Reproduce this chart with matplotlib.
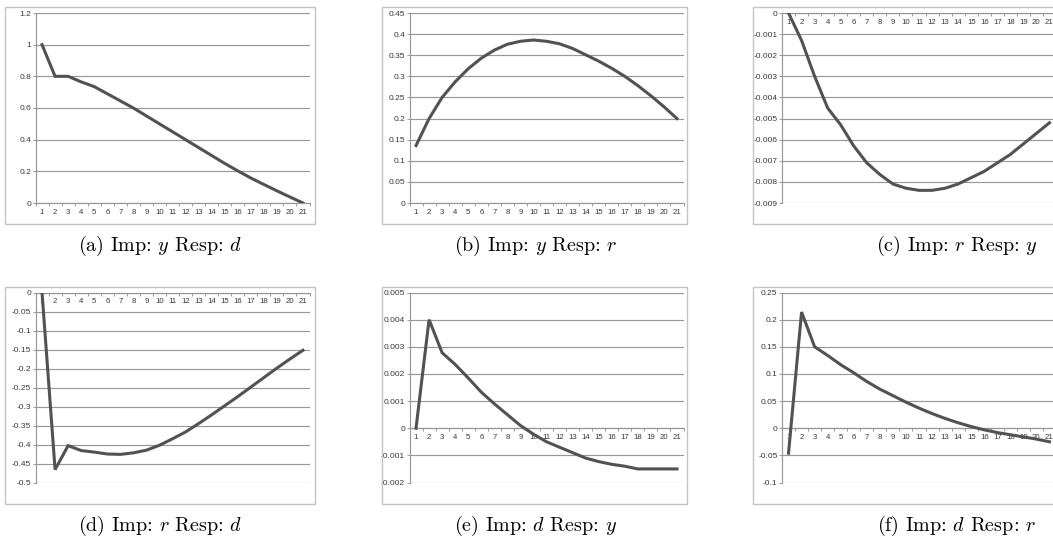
import matplotlib
matplotlib.use("Agg")
import matplotlib.pyplot as plt
from matplotlib.patches import Rectangle

# ---------------- data ----------------
periods = list(range(1, 22))
period_labels = [str(p) for p in periods]

resp_a = [1.0, 0.8, 0.8, 0.765, 0.735, 0.69, 0.645, 0.6, 0.55, 0.5, 0.45,
          0.4, 0.35, 0.3, 0.25, 0.203, 0.158, 0.117, 0.077, 0.038, 0.0]
resp_b = [0.136, 0.2, 0.25, 0.287, 0.318, 0.343, 0.362, 0.376, 0.383, 0.386, 0.383,
          0.377, 0.366, 0.351, 0.336, 0.319, 0.3, 0.278, 0.254, 0.228, 0.2]
resp_c = [0.0, -0.0013, -0.003, -0.0045, -0.0053, -0.0063, -0.0071, -0.00765, -0.0081, -0.0083, -0.0084,
          -0.0084, -0.0083, -0.0081, -0.0078, -0.0075, -0.0071, -0.0067, -0.0062, -0.0057, -0.0052]
resp_d = [0.0, -0.466, -0.403, -0.416, -0.42, -0.425, -0.426, -0.422, -0.415, -0.402, -0.385,
          -0.367, -0.345, -0.322, -0.298, -0.274, -0.249, -0.224, -0.199, -0.175, -0.152]
resp_e = [0.0, 0.004, 0.00278, 0.00235, 0.00185, 0.00133, 0.0009, 0.0005, 0.0001, -0.00022, -0.0005,
          -0.0007, -0.0009, -0.0011, -0.00123, -0.00133, -0.0014, -0.0015, -0.0015, -0.0015, -0.0015]
resp_f = [-0.046, 0.214, 0.15, 0.134, 0.117, 0.102, 0.086, 0.072, 0.06, 0.048, 0.037,
          0.027, 0.018, 0.01, 0.003, -0.003, -0.008, -0.012, -0.016, -0.02, -0.025]

yticks_a = [0, 0.2, 0.4, 0.6, 0.8, 1, 1.2]
ylabels_a = ["0", "0.2", "0.4", "0.6", "0.8", "1", "1.2"]
yticks_b = [0, 0.05, 0.1, 0.15, 0.2, 0.25, 0.3, 0.35, 0.4, 0.45]
ylabels_b = ["0", "0.05", "0.1", "0.15", "0.2", "0.25", "0.3", "0.35", "0.4", "0.45"]
yticks_c = [-0.009, -0.008, -0.007, -0.006, -0.005, -0.004, -0.003, -0.002, -0.001, 0]
ylabels_c = ["-0.009", "-0.008", "-0.007", "-0.006", "-0.005", "-0.004", "-0.003", "-0.002", "-0.001", "0"]
yticks_d = [-0.5, -0.45, -0.4, -0.35, -0.3, -0.25, -0.2, -0.15, -0.1, -0.05, 0]
ylabels_d = ["-0.5", "-0.45", "-0.4", "-0.35", "-0.3", "-0.25", "-0.2", "-0.15", "-0.1", "-0.05", "0"]
yticks_e = [-0.002, -0.001, 0, 0.001, 0.002, 0.003, 0.004, 0.005]
ylabels_e = ["-0.002", "-0.001", "0", "0.001", "0.002", "0.003", "0.004", "0.005"]
yticks_f = [-0.1, -0.05, 0, 0.05, 0.1, 0.15, 0.2, 0.25]
ylabels_f = ["-0.1", "-0.05", "0", "0.05", "0.1", "0.15", "0.2", "0.25"]

captions = [r"(a) Imp: $y$ Resp: $d$", r"(b) Imp: $y$ Resp: $r$", r"(c) Imp: $r$ Resp: $y$",
            r"(d) Imp: $r$ Resp: $d$", r"(e) Imp: $d$ Resp: $y$", r"(f) Imp: $d$ Resp: $r$"]

# ---------------- layout ----------------
W, H = 1053, 552
plt.rcParams["mathtext.fontset"] = "cm"
plt.rcParams["axes.unicode_minus"] = False
fig = plt.figure(figsize=(W / 100, H / 100), dpi=100)
fig.patch.set_facecolor("white")

LINE_C = "#525252"
GRID_C = "#989898"
TXT_C = "#383838"

col_left = [35.5, 409.5, 782.0]
ax_w = 274.0
row_top = [13.0, 292.5]
ax_h = 190.0
box_x = [5, 382, 753]
box_w = [310, 305, 320]
box_top = [7, 287]
box_h = 217
cap_cx = [160, 536, 957]
cap_cy = [246, 526]

panels = [
    (resp_a, yticks_a, ylabels_a),
    (resp_b, yticks_b, ylabels_b),
    (resp_c, yticks_c, ylabels_c),
    (resp_d, yticks_d, ylabels_d),
    (resp_e, yticks_e, ylabels_e),
    (resp_f, yticks_f, ylabels_f),
]

for i, (vals, yt, yl) in enumerate(panels):
    r, c = divmod(i, 3)
    # panel box
    bx, by = box_x[c], box_top[r]
    fig.patches.append(Rectangle((bx / W, 1 - (by + box_h) / H), box_w[c] / W, box_h / H,
                                 transform=fig.transFigure, fill=False,
                                 edgecolor="#c4c4c4", linewidth=1.0, zorder=0))
    left = col_left[c]
    top = row_top[r]
    ax = fig.add_axes([left / W, 1 - (top + ax_h) / H, ax_w / W, ax_h / H])
    ax.set_facecolor("none")
    ax.plot(periods, vals, color=LINE_C, linewidth=2.2, solid_joinstyle="miter", zorder=3)
    ax.set_xlim(0.5, 21.5)
    ax.set_ylim(yt[0], yt[-1])
    ax.set_yticks(yt)
    ax.set_yticklabels(yl)
    ax.yaxis.grid(True, color=GRID_C, linewidth=0.85)
    ax.set_axisbelow(True)
    for s in ("top", "right"):
        ax.spines[s].set_visible(False)
    ax.spines["left"].set_color(GRID_C)
    ax.spines["left"].set_linewidth(0.85)
    ax.spines["bottom"].set_position(("data", 0))
    ax.spines["bottom"].set_color(GRID_C)
    ax.spines["bottom"].set_linewidth(0.85)
    ax.set_xticks(periods)
    ax.set_xticklabels(period_labels)
    ax.set_xticks([p - 0.5 for p in periods] + [21.5], minor=True)
    ax.tick_params(axis="x", which="major", length=0, pad=4.0, labelsize=5.6,
                   labelcolor=TXT_C)
    ax.tick_params(axis="x", which="minor", length=2.2, width=0.7, color=GRID_C,
                   direction="out")
    ax.tick_params(axis="y", which="major", length=2.2, width=0.7, color=GRID_C,
                   pad=1.0, labelsize=6.0, labelcolor=TXT_C)
    for lab in ax.get_xticklabels() + ax.get_yticklabels():
        lab.set_fontfamily("Liberation Sans")
    fig.text(cap_cx[c] / W, 1 - cap_cy[r] / H, captions[i], fontfamily="cmr10",
             fontsize=14.5, ha="center", va="center", color="black")

fig.savefig("out.png", dpi=100, facecolor="white")
